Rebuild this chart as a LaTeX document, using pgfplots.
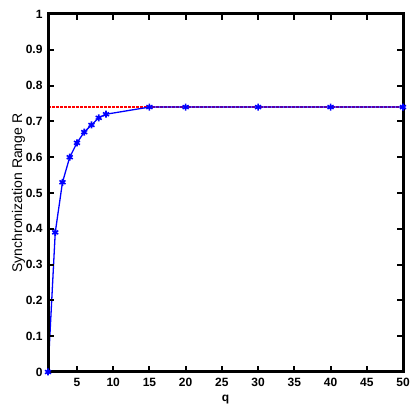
\documentclass[border=0pt]{standalone}
\usepackage{fontspec}
\setmainfont{Liberation Sans}
\usepackage{pgfplots}
\pgfplotsset{compat=1.18}

\begin{document}
\begin{tikzpicture}
\begin{axis}[
    name=ax,
    scale only axis,
    width=355pt, height=358pt,
    xmin=1, xmax=50, ymin=0, ymax=1,
    xtick={5,10,...,50},
    ytick={0,0.1,...,1},
    yticklabels={0,0.1,0.2,0.3,0.4,0.5,0.6,0.7,0.8,0.9,1},
    major tick length=0pt,
    axis line style={draw=none},
    tick label style={font=\fontsize{12}{13}\selectfont\bfseries},
    xticklabel style={yshift=-3pt},
    yticklabel style={xshift=-2pt},
    /pgf/number format/assume math mode=true,
    xlabel={\bfseries q},
    ylabel={Synchronization Range R},
    xlabel style={font=\fontsize{12}{13}\selectfont, yshift=-1pt},
    ylabel style={font=\fontsize{14}{15}\selectfont, yshift=-6pt},
    clip=false,
]
\addplot[color=red, dash pattern=on 2.5pt off 1.5pt, line width=1.2pt] coordinates {(1,0.74) (50,0.74)};
\addplot[color=blue, line width=1.3pt, mark=asterisk, mark size=3.5pt,
    mark options={line width=1.6pt, solid}] coordinates {
    (1,0) (2,0.39) (3,0.53) (4,0.60) (5,0.64) (6,0.67) (7,0.69) (8,0.71)
    (9,0.72) (15,0.74) (20,0.74) (30,0.74) (40,0.74) (50,0.74)
};
% frame
\draw[black, line width=3pt, line cap=rect] (rel axis cs:0,0) rectangle (rel axis cs:1,1);
% inward ticks, bottom and top
\draw[black, line width=2pt]
  (rel axis cs:0.0816,0) -- (rel axis cs:0.0816,0.018) (rel axis cs:0.0816,1) -- (rel axis cs:0.0816,0.982)
  (rel axis cs:0.1837,0) -- (rel axis cs:0.1837,0.018) (rel axis cs:0.1837,1) -- (rel axis cs:0.1837,0.982)
  (rel axis cs:0.2857,0) -- (rel axis cs:0.2857,0.018) (rel axis cs:0.2857,1) -- (rel axis cs:0.2857,0.982)
  (rel axis cs:0.3878,0) -- (rel axis cs:0.3878,0.018) (rel axis cs:0.3878,1) -- (rel axis cs:0.3878,0.982)
  (rel axis cs:0.4898,0) -- (rel axis cs:0.4898,0.018) (rel axis cs:0.4898,1) -- (rel axis cs:0.4898,0.982)
  (rel axis cs:0.5918,0) -- (rel axis cs:0.5918,0.018) (rel axis cs:0.5918,1) -- (rel axis cs:0.5918,0.982)
  (rel axis cs:0.6939,0) -- (rel axis cs:0.6939,0.018) (rel axis cs:0.6939,1) -- (rel axis cs:0.6939,0.982)
  (rel axis cs:0.7959,0) -- (rel axis cs:0.7959,0.018) (rel axis cs:0.7959,1) -- (rel axis cs:0.7959,0.982)
  (rel axis cs:0.8980,0) -- (rel axis cs:0.8980,0.018) (rel axis cs:0.8980,1) -- (rel axis cs:0.8980,0.982);
% inward ticks, left and right
\draw[black, line width=2pt]
  (rel axis cs:0,0.1) -- (rel axis cs:0.018,0.1) (rel axis cs:1,0.1) -- (rel axis cs:0.982,0.1)
  (rel axis cs:0,0.2) -- (rel axis cs:0.018,0.2) (rel axis cs:1,0.2) -- (rel axis cs:0.982,0.2)
  (rel axis cs:0,0.3) -- (rel axis cs:0.018,0.3) (rel axis cs:1,0.3) -- (rel axis cs:0.982,0.3)
  (rel axis cs:0,0.4) -- (rel axis cs:0.018,0.4) (rel axis cs:1,0.4) -- (rel axis cs:0.982,0.4)
  (rel axis cs:0,0.5) -- (rel axis cs:0.018,0.5) (rel axis cs:1,0.5) -- (rel axis cs:0.982,0.5)
  (rel axis cs:0,0.6) -- (rel axis cs:0.018,0.6) (rel axis cs:1,0.6) -- (rel axis cs:0.982,0.6)
  (rel axis cs:0,0.7) -- (rel axis cs:0.018,0.7) (rel axis cs:1,0.7) -- (rel axis cs:0.982,0.7)
  (rel axis cs:0,0.8) -- (rel axis cs:0.018,0.8) (rel axis cs:1,0.8) -- (rel axis cs:0.982,0.8)
  (rel axis cs:0,0.9) -- (rel axis cs:0.018,0.9) (rel axis cs:1,0.9) -- (rel axis cs:0.982,0.9);
\end{axis}
\path ([shift={(-48pt,-37pt)}]ax.south west) rectangle ([shift={(12pt,14pt)}]ax.north east);
\end{tikzpicture}
\end{document}
